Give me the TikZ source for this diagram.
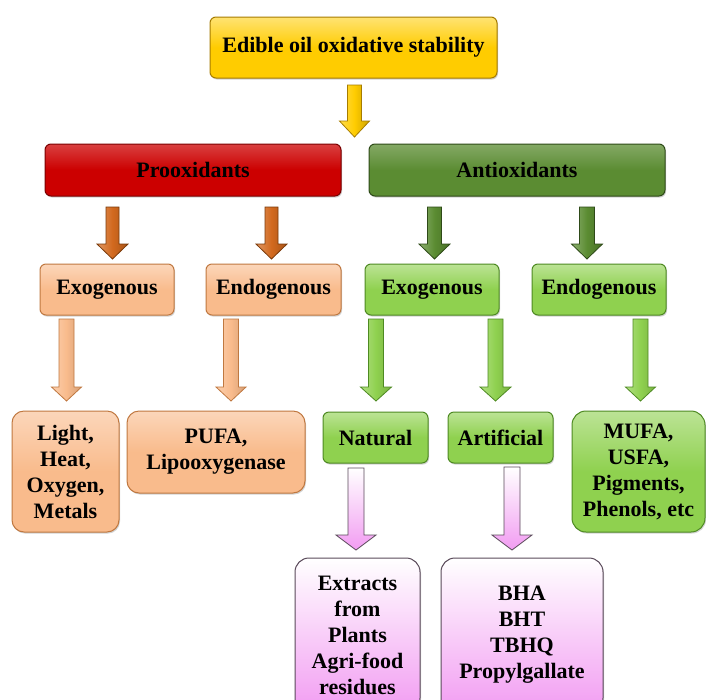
\documentclass[tikz,border=0pt]{standalone}
\usepackage{fontspec}
\setmainfont{Liberation Serif}
\usetikzlibrary{shadows}
\definecolor{gold}{HTML}{FFCC00}
\definecolor{goldd}{HTML}{A67C00}
\definecolor{redb}{HTML}{CC0000}
\definecolor{redd}{HTML}{7A0000}
\definecolor{greenb}{HTML}{5B8C32}
\definecolor{greend}{HTML}{2E4A18}
\definecolor{peach}{HTML}{F9BB8C}
\definecolor{peachd}{HTML}{C07840}
\definecolor{lgreen}{HTML}{8FD14F}
\definecolor{lgreend}{HTML}{4E8A22}
\definecolor{orarr}{HTML}{D2691E}
\definecolor{orarrd}{HTML}{7A3A0A}
\definecolor{pinkb}{HTML}{F29CF2}
\definecolor{pinkd}{HTML}{5A4A5A}
\tikzset{
  box/.style={rounded corners=6pt, line width=1pt, align=center, inner sep=2pt,
    font=\fontsize{22}{26}\selectfont\bfseries,
    drop shadow={shadow xshift=1pt, shadow yshift=-1.5pt, opacity=0.35}},
  goldbox/.style={box, draw=goldd, top color=gold!55!white, bottom color=gold, middle color=gold},
  redbox/.style={box, draw=redd, top color=redb!75!white, bottom color=redb, middle color=redb},
  greenbox/.style={box, draw=greend, top color=greenb!75!white, bottom color=greenb, middle color=greenb},
  peachbox/.style={box, draw=peachd, top color=peach!60!white, bottom color=peach, middle color=peach},
  lgreenbox/.style={box, draw=lgreend, top color=lgreen!60!white, bottom color=lgreen, middle color=lgreen},
  pinkbox/.style={box, rounded corners=14pt, draw=pinkd, top color=white, bottom color=pinkb},
  arrgold/.style={draw=goldd, line width=0.8pt, left color=gold!70!white, right color=gold!80!black, middle color=gold},
  arrorange/.style={draw=orarrd, line width=0.8pt, left color=orarr!70!white, right color=orarr!80!black, middle color=orarr},
  arrgreen/.style={draw=greend, line width=0.8pt, left color=greenb!70!white, right color=greenb!80!black, middle color=greenb},
  arrpeach/.style={draw=peachd, line width=0.8pt, left color=peach!70!white, right color=peach!85!black, middle color=peach},
  arrlgreen/.style={draw=lgreend, line width=0.8pt, left color=lgreen!70!white, right color=lgreen!85!black, middle color=lgreen},
  arrpink/.style={draw=pinkd, line width=0.8pt, top color=white, bottom color=pinkb},
}
% #1 style, #2 x, #3 top y, #4 head start y, #5 tip y, #6 shaft half width, #7 head half width
\newcommand{\blockarr}[7]{%
  \path[#1] (#2-#6,#3) -- (#2+#6,#3) -- (#2+#6,#4) -- (#2+#7,#4) -- (#2,#5)
    -- (#2-#7,#4) -- (#2-#6,#4) -- cycle;}
\begin{document}
\begin{tikzpicture}[x=1pt,y=-1pt]
\clip (0,0) rectangle (706,699);
\fill[white] (0,0) rectangle (706,699);

% title
\node[goldbox, minimum width=287, minimum height=61] (title) at (353.5,47.5) {Edible oil oxidative stability};

% level 1
\node[redbox, minimum width=296, minimum height=52] (pro) at (193,170) {Prooxidants};
\node[greenbox, minimum width=296, minimum height=52] (anti) at (517,170) {Antioxidants};

% level 2
\node[peachbox, minimum width=134, minimum height=51] (pexo) at (107,289.5) {Exogenous};
\node[peachbox, minimum width=135, minimum height=51] (pendo) at (273.5,289.5) {Endogenous};
\node[lgreenbox, minimum width=134, minimum height=51] (aexo) at (432,289.5) {Exogenous};
\node[lgreenbox, minimum width=134, minimum height=51] (aendo) at (599,289.5) {Endogenous};

% level 3
\node[peachbox, rounded corners=12pt, minimum width=107, minimum height=121] (light) at (65.5,471.5) {Light,\\Heat,\\Oxygen,\\Metals};
\node[peachbox, rounded corners=12pt, minimum width=178, minimum height=82] (pufa) at (216,452) {PUFA,\\Lipooxygenase};
\node[lgreenbox, minimum width=105, minimum height=51] (nat) at (375.5,437.5) {Natural};
\node[lgreenbox, minimum width=105, minimum height=51] (art) at (500.5,437.5) {Artificial};
\node[lgreenbox, rounded corners=14pt, minimum width=133, minimum height=121] (mufa) at (638.5,471.5) {MUFA,\\USFA,\\Pigments,\\Phenols, etc};

% level 4
\node[pinkbox, minimum width=125, minimum height=154] (extr) at (357.5,635) {Extracts\\from\\Plants\\Agri-food\\residues};
\node[pinkbox, minimum width=162, minimum height=154] (bha) at (522,635) {BHA\\BHT\\TBHQ\\Propylgallate};

% arrows
\blockarr{arrgold}{354.5}{85}{121}{137}{7}{15}
\blockarr{arrorange}{112.5}{207}{244}{259}{6.5}{15.5}
\blockarr{arrorange}{271.5}{207}{244}{259}{6.5}{15.5}
\blockarr{arrgreen}{434.5}{207}{244}{259}{7}{15.5}
\blockarr{arrgreen}{587}{207}{244}{259}{7.5}{15.5}
\blockarr{arrpeach}{66.5}{319}{387}{401}{7.5}{15}
\blockarr{arrpeach}{231}{319}{387}{401}{7.5}{15}
\blockarr{arrlgreen}{376}{319}{387}{401}{7.5}{15.5}
\blockarr{arrlgreen}{495.5}{319}{387}{401}{7.5}{15.5}
\blockarr{arrlgreen}{640.5}{319}{387}{401}{7.5}{15}
\blockarr{arrpink}{356}{468}{535}{550}{8}{20}
\blockarr{arrpink}{512}{467}{535}{550}{8}{20}
\end{tikzpicture}
\end{document}
